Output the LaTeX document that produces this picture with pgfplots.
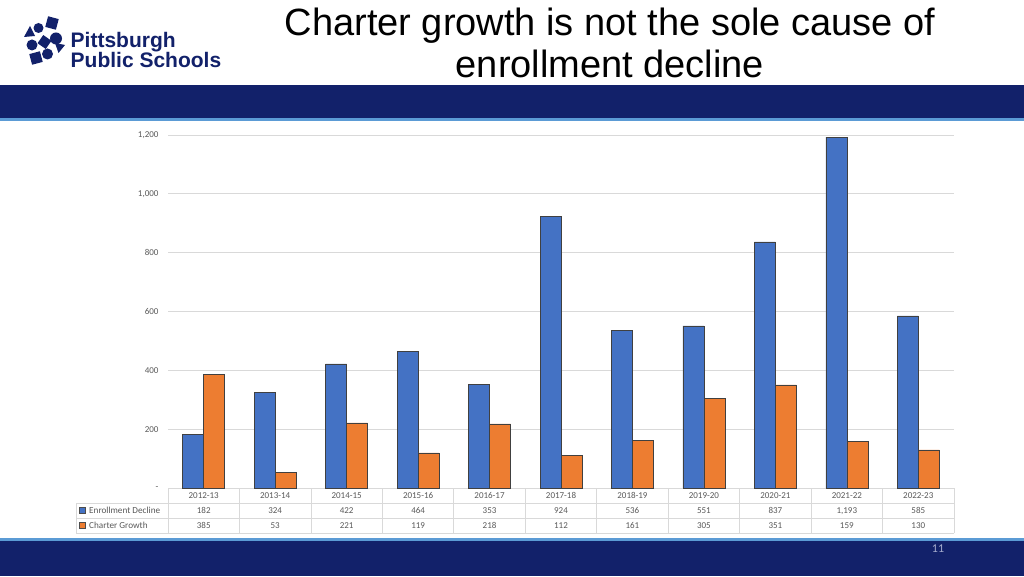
\documentclass[border=0pt]{standalone}
\usepackage{pgfplots}
\pgfplotsset{compat=1.18}
\usepackage{pgfplotstable}
\usepackage{fontspec}
\setmainfont{Carlito}
\newfontfamily\arialfont{Liberation Sans}
\definecolor{navy}{RGB}{18,33,106}
\definecolor{ltblue}{RGB}{91,155,213}
\definecolor{barblue}{RGB}{68,114,196}
\definecolor{barorange}{RGB}{237,125,49}
\definecolor{gridgray}{RGB}{217,217,217}
\definecolor{txtgray}{RGB}{89,89,89}
\definecolor{pgnum}{RGB}{165,172,205}

\pgfplotstableread{
x year enroll charter
0 2012-13 182 385
1 2013-14 324 53
2 2014-15 422 221
3 2015-16 464 119
4 2016-17 353 218
5 2017-18 924 112
6 2018-19 536 161
7 2019-20 551 305
8 2020-21 837 351
9 2021-22 1193 159
10 2022-23 585 130
}\data

\begin{document}
\begin{tikzpicture}
\begin{scope}[x=1pt,y=1pt]
\path[use as bounding box, fill=white] (0,0) rectangle (1024,576);
% bands
\fill[navy] (0,458) rectangle (1024,491);
\fill[ltblue] (0,455) rectangle (1024,458);
\fill[ltblue] (0,35) rectangle (1024,38);
\fill[navy] (0,0) rectangle (1024,35);
% title
\node[anchor=base, inner sep=0, font=\arialfont\fontsize{38}{43}\selectfont] at (610,540) {Charter growth is not the sole cause of};
\node[anchor=base, inner sep=0, font=\arialfont\fontsize{38}{43}\selectfont] at (610,498) {enrollment decline};
% logo
\node[anchor=base west, inner sep=0, text=navy, font=\arialfont\bfseries\fontsize{21}{23}\selectfont] at (70.5,528.5) {Pittsburgh};
\node[anchor=base west, inner sep=0, text=navy, font=\arialfont\bfseries\fontsize{21}{23}\selectfont] at (70.5,508) {Public Schools};
\begin{scope}[shift={(0,576)}, yscale=-1]
\fill[navy] (24,37) -- (30,26) -- (35,36) -- cycle;
\fill[navy] (38.5,28) circle (5);
\fill[navy, rotate around={15:(52,23)}] (46.5,17.5) rectangle (57.5,28.5);
\fill[navy] (32,45) circle (5.5);
\fill[navy, rotate around={35:(44.5,42)}] (39.5,37) rectangle (49.5,47);
\fill[navy] (56,38.5) circle (6);
\fill[navy, rotate around={-15:(36,58)}] (30.5,52.5) rectangle (41.5,63.5);
\fill[navy] (47.5,54) circle (5.5);
\fill[navy] (55,43) -- (65,45) -- (58.5,53) -- cycle;
\end{scope}
% page number
\node[text=pgnum, font=\fontsize{12}{14}\selectfont] at (938,27) {11};
% data table grid
\begin{scope}[draw=gridgray, line width=0.8pt]
\draw (168,88) -- (954,88);
\draw (76,73) -- (954,73);
\draw (76,58) -- (954,58);
\draw (76,43) -- (954,43);
\draw (76,43) -- (76,73);
\foreach \k in {0,...,11} { \draw ({168+71.4545*\k},43) -- ({168+71.4545*\k},88); }
\end{scope}
\filldraw[fill=barblue, draw=black!70, line width=0.4pt] (79,62.5) rectangle (85,68.5);
\filldraw[fill=barorange, draw=black!70, line width=0.4pt] (79,47.5) rectangle (85,53.5);
\node[anchor=base west, inner sep=0, text=txtgray, font=\fontsize{9.2}{11}\selectfont] at (89,62.4) {Enrollment Decline};
\node[anchor=base west, inner sep=0, text=txtgray, font=\fontsize{9.2}{11}\selectfont] at (89,47.4) {Charter Growth};
\end{scope}

\begin{axis}[
  at={(168pt,88pt)}, anchor=south west, scale only axis,
  width=786pt, height=353pt,
  xmin=-0.5, xmax=10.5, ymin=0, ymax=1200,
  clip=false,
  axis line style={draw=none}, major tick length=0pt,
  /pgf/number format/assume math mode=true,
  scaled y ticks=false,
  ytick={0,200,...,1200}, yticklabels={-,200,400,600,800,{1,000},{1,200}},
  ymajorgrids, grid style={gridgray, line width=0.8pt},
  xtick={0,...,10}, xticklabels from table={\data}{year},
  tick label style={font=\fontsize{9}{11}\selectfont, text=txtgray},
  yticklabel style={xshift=-6pt},
  xticklabel style={anchor=base, yshift=-10pt, font=\fontsize{9}{11}\selectfont},
]
\addplot[ybar, bar width=21pt, bar shift=-10.5pt, fill=barblue, draw=black!75, line width=0.5pt] table[x=x, y=enroll] {\data};
\addplot[ybar, bar width=21pt, bar shift=10.5pt, fill=barorange, draw=black!75, line width=0.5pt] table[x=x, y=charter] {\data};
\addplot[draw=none, mark=none, forget plot, nodes near coords, point meta=explicit,
  nodes near coords style={anchor=base, yshift=-25.6pt, font=\fontsize{9}{11}\selectfont, text=txtgray}]
  table[x=x, y expr=0, meta=enroll] {\data};
\addplot[draw=none, mark=none, forget plot, nodes near coords, point meta=explicit,
  nodes near coords style={anchor=base, yshift=-40.6pt, font=\fontsize{9}{11}\selectfont, text=txtgray}]
  table[x=x, y expr=0, meta=charter] {\data};
\end{axis}
\end{tikzpicture}
\end{document}
